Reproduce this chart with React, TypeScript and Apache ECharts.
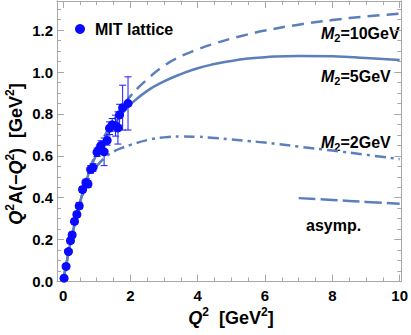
import React, { useEffect, useRef } from "react";
import * as echarts from "echarts";

const latX = [0.03, 0.09, 0.16, 0.22, 0.27, 0.34, 0.41, 0.48, 0.58, 0.68, 0.74, 0.82, 0.89, 1.01, 1.08, 1.13, 1.22, 1.31, 1.38, 1.46, 1.56, 1.63, 1.68, 1.77, 1.93];
const latY = [0.016, 0.072, 0.143, 0.195, 0.222, 0.287, 0.32, 0.361, 0.439, 0.472, 0.465, 0.535, 0.544, 0.617, 0.632, 0.65, 0.619, 0.673, 0.732, 0.748, 0.744, 0.733, 0.796, 0.83, 0.85];
const latErr = [0.008, 0.01, 0.01, 0.012, 0.012, 0.012, 0.012, 0.014, 0.014, 0.016, 0.016, 0.018, 0.018, 0.02, 0.02, 0.022, 0.066, 0.022, 0.03, 0.03, 0.05, 0.077, 0.05, 0.107, 0.127];

const curveX = [0, 0.1, 0.25, 0.5, 0.75, 1, 1.25, 1.5, 1.75, 2, 2.5, 3, 3.5, 4, 4.5, 5, 5.5, 6, 7, 8, 9, 10];
const m5 = [0, 0.085, 0.21, 0.375, 0.51, 0.61, 0.685, 0.75, 0.8, 0.845, 0.91, 0.955, 0.99, 1.018, 1.038, 1.053, 1.064, 1.071, 1.077, 1.075, 1.067, 1.057];
const m10 = [0, 0.085, 0.21, 0.375, 0.515, 0.62, 0.7, 0.77, 0.83, 0.885, 0.965, 1.03, 1.075, 1.108, 1.136, 1.16, 1.18, 1.198, 1.226, 1.248, 1.265, 1.278];
const m2 = [0, 0.085, 0.205, 0.365, 0.485, 0.55, 0.592, 0.62, 0.638, 0.652, 0.675, 0.688, 0.692, 0.691, 0.685, 0.678, 0.671, 0.663, 0.644, 0.625, 0.605, 0.584];
const asymX = [7, 8, 9, 10];
const asymY = [0.398, 0.389, 0.38, 0.371];

const xMajor = [0, 2, 4, 6, 8, 10];
const xMinor = [0.5, 1, 1.5, 2.5, 3, 3.5, 4.5, 5, 5.5, 6.5, 7, 7.5, 8.5, 9, 9.5];
const yMajor = [0, 0.2, 0.4, 0.6, 0.8, 1.0, 1.2];
const yMinor = [0.05, 0.1, 0.15, 0.25, 0.3, 0.35, 0.45, 0.5, 0.55, 0.65, 0.7, 0.75, 0.85, 0.9, 0.95, 1.05, 1.1, 1.15, 1.25, 1.3];

const FONT = "'Liberation Sans', Arial, sans-serif";
const FRAME = "#a8a8a8";
const CURVE = "#5b7fbb";
const DOT = "#0a0aff";

export default function App() {
  const ref = useRef<HTMLDivElement>(null);
  useEffect(() => {
    if (!ref.current) return;
    const chart = echarts.init(ref.current, undefined, { renderer: "svg" });
    const xMin = -0.18, xMax = 10.05, yMin = 0, yMax = 1.339;
    const mkX = (pos: string, vals: number[], len: number, labels: boolean) => ({
      type: "value", position: pos, min: xMin, max: xMax,
      axisLine: { show: true, onZero: false, lineStyle: { color: FRAME, width: 1 } },
      axisTick: { show: true, inside: true, length: len, customValues: vals, lineStyle: { color: FRAME } },
      axisLabel: labels ? { show: true, customValues: xMajor, margin: 6, color: "#000", fontFamily: FONT, fontWeight: "bold", fontSize: 15, formatter: (v: number) => String(Math.round(v)) } : { show: false },
      splitLine: { show: false },
    });
    const mkY = (pos: string, vals: number[], len: number, labels: boolean) => ({
      type: "value", position: pos, min: yMin, max: yMax,
      axisLine: { show: true, onZero: false, lineStyle: { color: FRAME, width: 1 } },
      axisTick: { show: true, inside: true, length: len, customValues: vals, lineStyle: { color: FRAME } },
      axisLabel: labels ? { show: true, customValues: yMajor, margin: 4, color: "#000", fontFamily: FONT, fontWeight: "bold", fontSize: 15, formatter: (v: number) => v.toFixed(1) } : { show: false },
      splitLine: { show: false },
    });
    const rich = {
      i: { fontFamily: FONT, fontWeight: "bold", fontStyle: "italic", fontSize: 16, fill: "#000", lineHeight: 20 },
      n: { fontFamily: FONT, fontWeight: "bold", fontSize: 16, fill: "#000", lineHeight: 20 },
      sub: { fontFamily: FONT, fontWeight: "bold", fontSize: 11, fill: "#000", lineHeight: 12, verticalAlign: "bottom" },
      I: { fontFamily: FONT, fontWeight: "bold", fontStyle: "italic", fontSize: 18, fill: "#000", lineHeight: 24 },
      N: { fontFamily: FONT, fontWeight: "bold", fontSize: 18, fill: "#000", lineHeight: 24 },
      sup: { fontFamily: FONT, fontWeight: "bold", fontSize: 12, fill: "#000", lineHeight: 12, verticalAlign: "top" },
    };
    const pairs = (xs: number[], ys: number[]) => xs.map((x, i) => [x, ys[i]]);
    chart.setOption({
      animation: false,
      grid: { left: 57, right: 9, top: 1, bottom: 53.5, containLabel: false },
      xAxis: [mkX("bottom", xMajor, 7, true), mkX("bottom", xMinor, 4, false), mkX("top", xMajor, 7, false), mkX("top", xMinor, 4, false)],
      yAxis: [mkY("left", yMajor, 7, true), mkY("left", yMinor, 4, false), mkY("right", yMajor, 7, false), mkY("right", yMinor, 4, false)],
      legend: {
        left: 75, top: 21, padding: 0, data: [{ name: "MIT lattice", icon: "circle" }],
        itemWidth: 10, itemHeight: 10,
        textStyle: { fontFamily: FONT, fontWeight: "bold", fontSize: 16, color: "#000", padding: [0, 0, 0, 5] },
      },
      series: [
        { type: "line", name: "M2=10", data: pairs(curveX, m10), smooth: true, showSymbol: false, lineStyle: { color: CURVE, width: 2.5, type: [12, 7] }, z: 2 },
        { type: "line", name: "M2=5", data: pairs(curveX, m5), smooth: true, showSymbol: false, lineStyle: { color: CURVE, width: 2.5, type: "solid" }, z: 2 },
        { type: "line", name: "M2=2", data: pairs(curveX, m2), smooth: true, showSymbol: false, lineStyle: { color: CURVE, width: 2.5, type: [11, 5, 3, 5] }, z: 2 },
        { type: "line", name: "asymp", data: pairs(asymX, asymY), smooth: true, showSymbol: false, lineStyle: { color: CURVE, width: 2.5, type: [17, 5] }, z: 2 },
        {
          type: "custom", name: "err", z: 3,
          data: latX.map((x, i) => [x, latY[i], latErr[i]]),
          renderItem: (params: any, api: any) => {
            const x = api.value(0), y = api.value(1), e = api.value(2);
            const t = api.coord([x, y + e]);
            const b = api.coord([x, y - e]);
            const st = { stroke: "#1a1aff", lineWidth: 1 };
            const c = 3.5;
            return {
              type: "group",
              children: [
                { type: "line", shape: { x1: t[0], y1: t[1], x2: b[0], y2: b[1] }, style: st },
                { type: "line", shape: { x1: t[0] - c, y1: t[1], x2: t[0] + c, y2: t[1] }, style: st },
                { type: "line", shape: { x1: b[0] - c, y1: b[1], x2: b[0] + c, y2: b[1] }, style: st },
              ],
            };
          },
        },
        { type: "scatter", name: "MIT lattice", data: pairs(latX, latY), symbol: "circle", symbolSize: 9, itemStyle: { color: DOT, opacity: 1 }, z: 4 },
      ],
      graphic: [
        { type: "text", x: 321, y: 33, style: { text: "{i|M}{sub|2}{n|=10GeV}", rich, verticalAlign: "middle" } },
        { type: "text", x: 321, y: 76, style: { text: "{i|M}{sub|2}{n|=5GeV}", rich, verticalAlign: "middle" } },
        { type: "text", x: 321, y: 142, style: { text: "{i|M}{sub|2}{n|=2GeV}", rich, verticalAlign: "middle" } },
        { type: "text", x: 306, y: 225, style: { text: "asymp.", fontFamily: FONT, fontWeight: "bold", fontSize: 16, fill: "#000", verticalAlign: "middle" } },
        { type: "text", x: 231, y: 306, style: { text: "{I|Q}{sup|2}{N|  [GeV}{sup|2}{N|]}", rich, align: "center", verticalAlign: "top" } },
        { type: "text", x: 16, y: 154, rotation: Math.PI / 2, style: { text: "{I|Q}{sup|2}{N|A(−}{I|Q}{sup|2}{N|)  [GeV}{sup|2}{N|]}", rich, align: "center", verticalAlign: "middle" } },
      ],
    });
    return () => chart.dispose();
  }, []);
  return <div ref={ref} style={{ position: "fixed", left: 0, top: 0, width: 411, height: 335, background: "#fff" }} />;
}
